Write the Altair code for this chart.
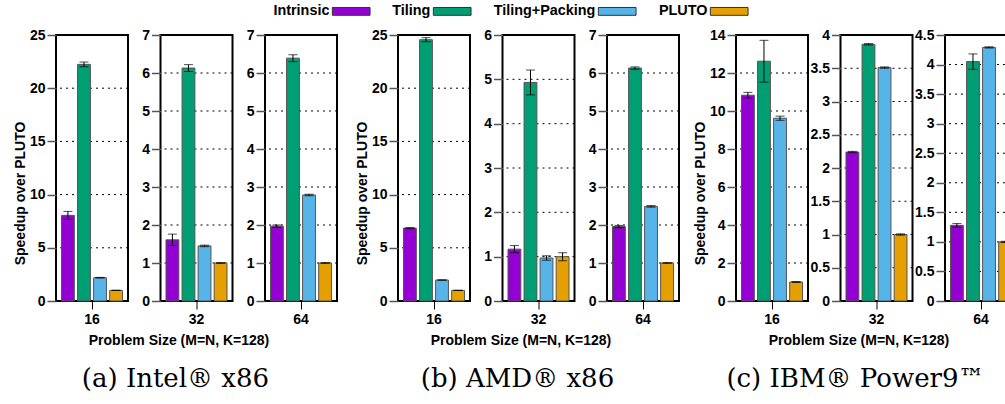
import altair as alt
import pandas as pd

sizes = ["16", "32", "64"]
impls = ["Intrinsic", "Tiling", "Tiling+Packing", "PLUTO"]
impl_colors = ["#9400D3", "#009E73", "#56B4E9", "#E69F00"]

# Speedup over PLUTO: one row per problem size, columns follow `impls`
intel_speedup = [
    [8.05, 22.24, 2.19, 1.00],
    [1.61, 6.13, 1.45, 1.00],
    [1.97, 6.39, 2.79, 1.00],
]
intel_error = [
    [0.37, 0.22, 0.03, 0.01],
    [0.15, 0.09, 0.02, 0.01],
    [0.03, 0.09, 0.02, 0.01],
]
amd_speedup = [
    [6.85, 24.56, 1.97, 1.00],
    [1.17, 4.93, 0.97, 1.00],
    [1.96, 6.13, 2.49, 1.00],
]
amd_error = [
    [0.05, 0.19, 0.02, 0.01],
    [0.08, 0.28, 0.05, 0.09],
    [0.03, 0.03, 0.02, 0.01],
]
ibm_speedup = [
    [10.83, 12.62, 9.62, 1.00],
    [2.24, 3.86, 3.51, 1.00],
    [1.28, 4.05, 4.29, 1.00],
]
ibm_error = [
    [0.15, 1.10, 0.11, 0.02],
    [0.01, 0.01, 0.01, 0.01],
    [0.03, 0.13, 0.01, 0.01],
]

# y-axis extent and tick step of each panel
intel_ymax, intel_ystep = [25, 7, 7], [5, 1, 1]
amd_ymax, amd_ystep = [25, 6, 7], [5, 1, 1]
ibm_ymax, ibm_ystep = [14, 4, 4.5], [2, 0.5, 0.5]

captions = ["(a) Intel\u00ae x86", "(b) AMD\u00ae x86", "(c) IBM\u00ae Power9\u2122"]

SANS = "Liberation Sans"
SERIF = "DejaVu Serif"
PANEL_W, PANEL_H = 72, 266


def frame(speedup, error, i):
    return pd.DataFrame({
        "size": sizes[i],
        "impl": impls,
        "speedup": speedup[i],
        "lo": [v - e for v, e in zip(speedup[i], error[i])],
        "hi": [v + e for v, e in zip(speedup[i], error[i])],
    })


def panel(df, ymax, ystep, first, middle, with_legend):
    ticks = [round(k * ystep, 3) for k in range(int(round(ymax / ystep)) + 1)]
    yscale = alt.Scale(domain=[0, ymax], nice=False, zero=True)
    ytitle = "Speedup over PLUTO" if first else None
    yaxis = alt.Axis(values=ticks, format="~g", title=ytitle, titleY=158,
                     grid=False)
    # the group's x title is hung off the middle panel, nudged left
    xaxis = alt.Axis(title="Problem Size (M=N, K=128)" if middle else None,
                     titleX=PANEL_W / 2 - 18)

    # dotted horizontal guides at every tick, behind the bars
    grid = alt.Chart(pd.DataFrame({"tick": ticks})).mark_rule(
        color="black", strokeWidth=1, strokeDash=[2, 4]
    ).encode(y=alt.Y("tick:Q", scale=yscale, axis=yaxis))

    base = alt.Chart(df).encode(
        x=alt.X("size:N", axis=xaxis,
                scale=alt.Scale(paddingOuter=0.09, paddingInner=0)),
        xOffset=alt.XOffset("impl:N", sort=impls,
                            scale=alt.Scale(paddingInner=0.2, paddingOuter=0)),
    )
    if with_legend:
        # labels sit to the left of their swatches
        legend = alt.Legend(
            title=None, orient="none", direction="horizontal",
            legendX=288, legendY=-31,
            symbolType="M-2.9,-0.6H2.9V0.6H-2.9Z", symbolSize=169,
            symbolStrokeColor="#333333", symbolStrokeWidth=1,
            labelAlign="right", labelOffset=alt.ExprRef(expr="-29"),
            columnPadding=19,
            labelFont=SANS, labelFontWeight="bold", labelFontSize=14.4,
            labelColor="black",
        )
    else:
        legend = None
    bars = base.mark_bar(stroke="#555555", strokeWidth=1).encode(
        y=alt.Y("speedup:Q", scale=yscale, axis=yaxis),
        color=alt.Color("impl:N", sort=impls,
                        scale=alt.Scale(domain=impls, range=impl_colors),
                        legend=legend),
    )
    whisker = base.mark_rule(color="black", strokeWidth=1).encode(
        y=alt.Y("lo:Q", scale=yscale, axis=yaxis), y2="hi:Q")
    cap_lo = base.mark_tick(color="black", size=9, thickness=1).encode(
        y=alt.Y("lo:Q", scale=yscale, axis=yaxis))
    cap_hi = base.mark_tick(color="black", size=9, thickness=1).encode(
        y=alt.Y("hi:Q", scale=yscale, axis=yaxis))
    return alt.layer(grid, bars, whisker, cap_lo, cap_hi).properties(
        width=PANEL_W, height=PANEL_H)


def group(speedup, error, ymax, ystep, caption, with_legend):
    panels = [
        panel(frame(speedup, error, i), ymax[i], ystep[i],
              first=(i == 0), middle=(i == 1),
              with_legend=(with_legend and i == 0))
        for i in range(3)
    ]
    return alt.hconcat(*panels, spacing=32.5, bounds="flush").properties(
        title=alt.TitleParams(caption, orient="bottom", anchor="middle",
                              font=SERIF, fontSize=26, fontWeight="normal",
                              color="black", offset=18))


left_pair = alt.hconcat(
    group(intel_speedup, intel_error, intel_ymax, intel_ystep, captions[0], True),
    group(amd_speedup, amd_error, amd_ymax, amd_ystep, captions[1], False),
    spacing=15,
)
# the last panel runs past the right edge and is cut by the negative padding
chart = alt.hconcat(
    left_pair,
    group(ibm_speedup, ibm_error, ibm_ymax, ibm_ystep, captions[2], False),
    spacing=11,
).properties(
    padding={"left": 12, "top": 4, "right": -14, "bottom": 0},
    background="white",
).configure_view(
    stroke="black", strokeWidth=2
).configure_axis(
    labelFont=SANS, labelFontSize=14, labelFontWeight="bold", labelColor="black",
    titleFont=SANS, titleFontSize=14, titleFontWeight="bold", titleColor="black",
    domain=False,
).configure_axisY(
    tickColor="#555555", tickWidth=1.5, tickSize=9, labelPadding=2, titlePadding=2,
).configure_axisX(
    grid=False, tickColor="black", tickSize=8, tickWidth=1, labelAngle=0,
    labelPadding=3, titlePadding=7,
)

chart.save("out.html", embed_options={"renderer": "svg", "actions": False})
